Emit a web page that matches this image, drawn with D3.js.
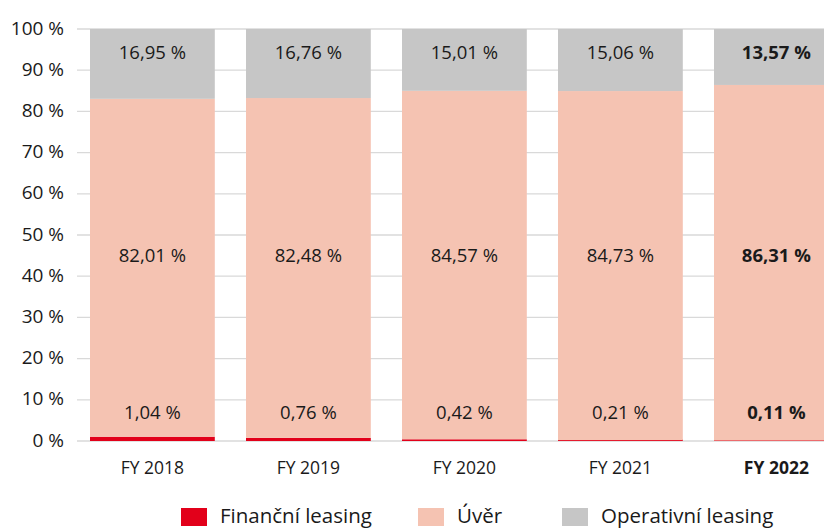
<!DOCTYPE html>
<html>
<head>
<meta charset="utf-8">
<script src="https://cdn.jsdelivr.net/npm/d3@7"></script>
<style>
  body { margin: 0; background: #fff; }
  svg { font-family: "Open Sans", sans-serif; }
</style>
</head>
<body>
<div id="chart"></div>
<script>
const years = ["FY 2018", "FY 2019", "FY 2020", "FY 2021", "FY 2022"];
const financni = [1.04, 0.76, 0.42, 0.21, 0.11];
const uver = [82.01, 82.48, 84.57, 84.73, 86.31];
const operativni = [16.95, 16.76, 15.01, 15.06, 13.57];
const yTicks = [0, 10, 20, 30, 40, 50, 60, 70, 80, 90, 100];
const seriesNames = ["Finanční leasing", "Úvěr", "Operativní leasing"];
const colors = ["#e2001a", "#f5c3b2", "#c6c6c6"];

const width = 824;
const height = 529;

const svg = d3
  .select("#chart")
  .append("svg")
  .attr("width", width)
  .attr("height", height);

const x = d3.scaleBand().domain(years).range([74.4, 854.4]).paddingInner(0.2).paddingOuter(0.1);
const y = d3.scaleLinear().domain([0, 100]).range([441, 29]);

const fmt = (v) => v.toFixed(2).replace(".", ",") + " %";

// gridlines
svg
  .selectAll("line.grid")
  .data(yTicks)
  .join("line")
  .attr("class", "grid")
  .attr("x1", 77)
  .attr("x2", width)
  .attr("y1", (d) => y(d))
  .attr("y2", (d) => y(d))
  .attr("stroke", "#d9d9d9")
  .attr("stroke-width", 1.3);

// y tick labels
svg
  .selectAll("text.ytick")
  .data(yTicks)
  .join("text")
  .attr("class", "ytick")
  .attr("x", 64)
  .attr("y", (d) => y(d) - 1)
  .attr("dy", "0.35em")
  .attr("text-anchor", "end")
  .attr("font-size", 19)
  .attr("fill", "#1a1a1a")
  .text((d) => d + " %");

const rows = years.map((yr, i) => ({
  year: yr,
  values: [financni[i], uver[i], operativni[i]],
  bold: i === years.length - 1,
}));

rows.forEach((r) => {
  let base = 0;
  r.values.forEach((v, k) => {
    const top = base + v;
    const h = Math.max(y(base) - y(top), 1.6);
    svg
      .append("rect")
      .attr("x", x(r.year))
      .attr("width", x.bandwidth())
      .attr("y", k === 0 ? y(base) - h : y(top))
      .attr("height", k === 0 ? h : y(base) - y(top))
      .attr("fill", colors[k]);
    base = top;
  });
});

// data labels at fixed heights (bottom, middle, top)
const labelLevels = [6.8, 45, 94.4];
rows.forEach((r) => {
  r.values.forEach((v, k) => {
    svg
      .append("text")
      .attr("x", x(r.year) + x.bandwidth() / 2)
      .attr("y", y(labelLevels[k]))
      .attr("dy", "0.35em")
      .attr("text-anchor", "middle")
      .attr("font-size", 18.5)
      .attr("font-weight", r.bold ? 700 : 400)
      .attr("fill", "#1a1a1a")
      .text(fmt(v));
  });
});

// x labels
svg
  .selectAll("text.xtick")
  .data(rows)
  .join("text")
  .attr("class", "xtick")
  .attr("x", (d) => x(d.year) + x.bandwidth() / 2)
  .attr("y", 468)
  .attr("dy", "0.35em")
  .attr("text-anchor", "middle")
  .attr("font-size", 17.5)
  .attr("font-weight", (d) => (d.bold ? 700 : 400))
  .attr("fill", "#1a1a1a")
  .text((d) => d.year);

// legend
const legendX = [181, 418, 562];
const legend = svg
  .selectAll("g.legend")
  .data(seriesNames)
  .join("g")
  .attr("class", "legend")
  .attr("transform", (d, i) => `translate(${legendX[i]},508)`);

legend
  .append("rect")
  .attr("width", 26)
  .attr("height", 18)
  .attr("fill", (d, i) => colors[i]);

legend
  .append("text")
  .attr("x", 39)
  .attr("y", 15)
  .attr("font-size", 20.5)
  .attr("fill", "#1a1a1a")
  .text((d) => d);
</script>
</body>
</html>
